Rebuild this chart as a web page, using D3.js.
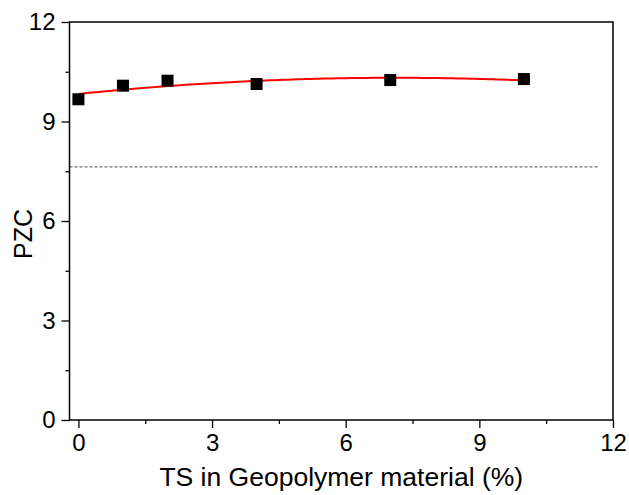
<!DOCTYPE html>
<html>
<head>
<meta charset="utf-8">
<script src="https://cdn.jsdelivr.net/npm/d3@7"></script>
<style>
  body { margin: 0; background: #fff; }
  text { font-family: "Liberation Sans", Arial, sans-serif; fill: #000; }
</style>
</head>
<body>
<div id="chart"></div>
<script>
// Data
const tsContent = [0, 1, 2, 4, 7, 10];
const pzc = [9.67, 10.08, 10.23, 10.13, 10.25, 10.28];
const xTicks = [0, 3, 6, 9, 12];
const yTicks = [0, 3, 6, 9, 12];
const xMinor = [1.5, 4.5, 7.5, 10.5];
const yMinor = [1.5, 4.5, 7.5, 10.5];
const refLevel = 7.63;
const refEnd = 11.67;

const W = 629, H = 495;
const margin = { top: 22, right: 16, bottom: 75, left: 69.5 };

const svg = d3.select("#chart")
  .append("svg")
    .attr("width", W)
    .attr("height", H);

const x = d3.scaleLinear()
  .domain([-0.2, 12])
  .range([margin.left, W - margin.right]);

const y = d3.scaleLinear()
  .domain([0, 12])
  .range([H - margin.bottom, margin.top]);

// reference dashed line
svg.append("line")
  .attr("x1", x(-0.2)).attr("x2", x(refEnd))
  .attr("y1", y(refLevel)).attr("y2", y(refLevel))
  .attr("stroke", "#6f6f6f")
  .attr("stroke-width", 1.2)
  .attr("stroke-dasharray", "3,2");

// quadratic least-squares fit of the points
function quadFit(xs, ys) {
  const S = k => d3.sum(xs, v => Math.pow(v, k));
  const T = k => d3.sum(xs, (v, i) => Math.pow(v, k) * ys[i]);
  const A = [[S(0), S(1), S(2), T(0)],
             [S(1), S(2), S(3), T(1)],
             [S(2), S(3), S(4), T(2)]];
  for (let i = 0; i < 3; i++) {
    for (let j = i + 1; j < 3; j++) {
      const f = A[j][i] / A[i][i];
      for (let k = i; k < 4; k++) A[j][k] -= f * A[i][k];
    }
  }
  const c = [0, 0, 0];
  for (let i = 2; i >= 0; i--) {
    let s = A[i][3];
    for (let k = i + 1; k < 3; k++) s -= A[i][k] * c[k];
    c[i] = s / A[i][i];
  }
  return c;
}
const coef = quadFit(tsContent, pzc);
const fitPts = d3.range(0, 10.001, 0.1).map(v => [v, coef[0] + coef[1] * v + coef[2] * v * v]);

svg.append("path")
  .datum(fitPts)
  .attr("fill", "none")
  .attr("stroke", "#ff0000")
  .attr("stroke-width", 2)
  .attr("d", d3.line().x(d => x(d[0])).y(d => y(d[1])));

// markers
const ms = 12;
svg.selectAll(".pt")
  .data(tsContent)
  .join("rect")
  .attr("class", "pt")
  .attr("x", d => x(d) - ms / 2)
  .attr("y", (d, i) => y(pzc[i]) - ms / 2)
  .attr("width", ms)
  .attr("height", ms)
  .attr("fill", "#000");

// axes
const gx = svg.append("g")
  .attr("transform", `translate(0,${y(0)})`)
  .call(d3.axisBottom(x).tickValues(xTicks).tickSize(8).tickPadding(6).tickFormat(d3.format("d")));
const gy = svg.append("g")
  .attr("transform", `translate(${x(-0.2)},0)`)
  .call(d3.axisLeft(y).tickValues(yTicks).tickSize(8).tickPadding(6).tickFormat(d3.format("d")));

[gx, gy].forEach(g => {
  g.select(".domain").remove();
  g.selectAll("line").attr("stroke", "#000").attr("stroke-width", 1.3);
  g.selectAll("text").attr("font-size", 24).attr("font-family", "Liberation Sans, Arial, sans-serif").attr("fill", "#000");
});

svg.append("g")
  .attr("transform", `translate(0,${y(0)})`)
  .call(d3.axisBottom(x).tickValues(xMinor).tickSize(4).tickFormat(""))
  .call(g => g.select(".domain").remove())
  .selectAll("line").attr("stroke", "#000").attr("stroke-width", 1.3);

svg.append("g")
  .attr("transform", `translate(${x(-0.2)},0)`)
  .call(d3.axisLeft(y).tickValues(yMinor).tickSize(4).tickFormat(""))
  .call(g => g.select(".domain").remove())
  .selectAll("line").attr("stroke", "#000").attr("stroke-width", 1.3);

// frame
svg.append("rect")
  .attr("x", x(-0.2))
  .attr("y", y(12))
  .attr("width", x(12) - x(-0.2))
  .attr("height", y(0) - y(12))
  .attr("fill", "none")
  .attr("stroke", "#000")
  .attr("stroke-width", 1.5);

// axis titles
svg.append("text")
  .attr("x", (x(-0.2) + x(12)) / 2)
  .attr("y", 486)
  .attr("text-anchor", "middle")
  .attr("font-size", 26.5)
  .text("TS in Geopolymer material (%)");

svg.append("text")
  .attr("transform", "translate(32,234) rotate(-90)")
  .attr("text-anchor", "middle")
  .attr("font-size", 25)
  .text("PZC");
</script>
</body>
</html>
